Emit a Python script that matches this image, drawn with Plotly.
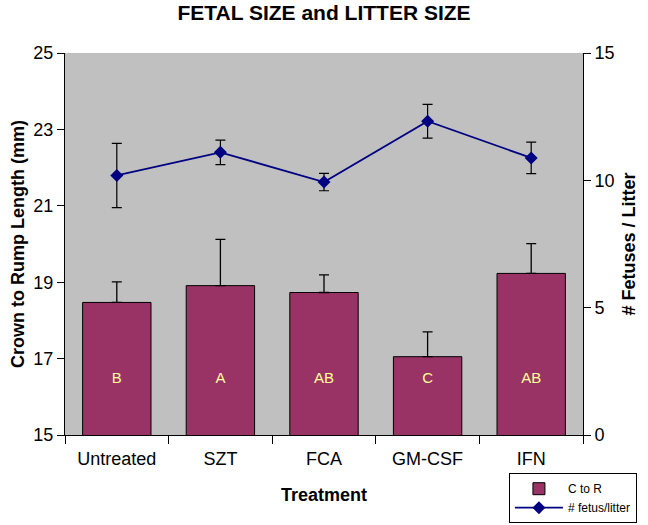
import plotly.graph_objects as go

categories = ["Untreated", "SZT", "FCA", "GM-CSF", "IFN"]
crown_rump = [18.47, 18.91, 18.73, 17.05, 19.23]
crown_rump_se = [0.54, 1.21, 0.46, 0.65, 0.78]
fetus_litter = [10.19, 11.10, 9.93, 12.32, 10.88]
fetus_litter_se = [1.26, 0.48, 0.34, 0.66, 0.62]
group_letters = ["B", "A", "AB", "C", "AB"]

LETTER_Y = 16.45
FONT = "Liberation Sans, Arial, Helvetica, sans-serif"

fig = go.Figure()

fig.add_trace(go.Bar(
    x=categories, y=crown_rump, name="C to R",
    marker=dict(color="#993366", line=dict(color="black", width=1)),
    width=0.66,
    error_y=dict(type="data", array=crown_rump_se, symmetric=False,
                 arrayminus=[0] * len(crown_rump_se),
                 color="black", thickness=1.3, width=5),
    yaxis="y",
))

fig.add_trace(go.Scatter(
    x=categories, y=[LETTER_Y] * len(categories), mode="text",
    text=group_letters, textfont=dict(color="#FFFF99", size=15, family=FONT),
    showlegend=False, hoverinfo="skip", yaxis="y",
))

fig.add_trace(go.Scatter(
    x=categories, y=fetus_litter, name="# fetus/litter",
    mode="lines+markers",
    line=dict(color="#000080", width=1.8),
    marker=dict(symbol="diamond", size=10, color="#000080"),
    error_y=dict(type="data", array=fetus_litter_se, symmetric=True,
                 color="black", thickness=1.2, width=5),
    yaxis="y2",
))

fig.update_layout(
    width=648, height=525,
    margin=dict(l=65, r=65, t=53, b=90, autoexpand=False),
    paper_bgcolor="white",
    plot_bgcolor="#C0C0C0",
    font=dict(family=FONT, size=18, color="black"),
    title=dict(text="<b>FETAL SIZE and LITTER SIZE</b>", x=0.5, xanchor="center",
               y=0.975, yanchor="middle", font=dict(size=21)),
    showlegend=True,
    legend=dict(x=0.857, xanchor="left", y=-0.1, yanchor="top",
                bordercolor="black", borderwidth=1, bgcolor="white",
                font=dict(size=12), tracegroupgap=0, itemwidth=48),
    xaxis=dict(
        title=dict(text="<b>Treatment</b>", standoff=20, font=dict(size=18)),
        showline=True, linecolor="black", linewidth=1,
        ticks="outside", ticklen=8, tickcolor="black",
        ticklabelstandoff=7,
        tickson="boundaries", showgrid=False,
        range=[-0.5, 4.5],
    ),
    yaxis=dict(
        title=dict(text="<b>Crown to Rump Length (mm)</b>", standoff=4, font=dict(size=18)),
        range=[15, 25], tickvals=[15, 17, 19, 21, 23, 25],
        showline=True, linecolor="black", linewidth=1,
        ticks="outside", ticklen=7, tickcolor="black",
        showgrid=False, zeroline=False,
    ),
    yaxis2=dict(
        title=dict(text="<b># Fetuses / Litter</b>", standoff=8, font=dict(size=18)),
        range=[0, 15], tickvals=[0, 5, 10, 15],
        overlaying="y", side="right",
        showline=True, linecolor="black", linewidth=1,
        ticks="outside", ticklen=7, tickcolor="black",
        showgrid=False, zeroline=False,
    ),
)

fig.write_html("out.html", config={"displayModeBar": False},
               post_script="document.body.style.margin='0';")
